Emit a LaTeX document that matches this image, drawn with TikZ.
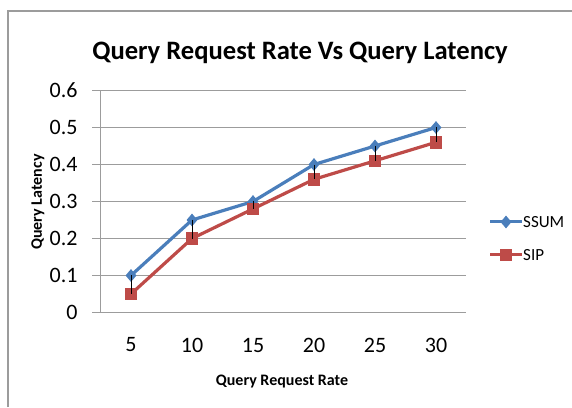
\documentclass[tikz,border=0pt]{standalone}
\usepackage{fontspec}
\setmainfont{Carlito}
\usepackage{tikz}
\usetikzlibrary{shapes.geometric}
\usetikzlibrary{positioning}
\definecolor{ssumblue}{HTML}{4A7EBB}
\definecolor{sipred}{HTML}{BE4B48}
\definecolor{gridgray}{HTML}{9C9C9C}

\tikzset{
  gridline/.style={draw=gridgray, line width=1.5pt},
  ssumline/.style={draw=ssumblue, line width=3.2pt, line join=round},
  sipline/.style={draw=sipred, line width=3.2pt, line join=round},
  ssummark/.style={diamond, fill=ssumblue, inner sep=0pt, minimum width=11pt, minimum height=13pt},
  sipmark/.style={rectangle, fill=sipred, inner sep=0pt, minimum size=12.5pt},
  ticklabel/.style={font=\fontsize{22}{24}\selectfont},
}

\begin{document}
\begin{tikzpicture}[x=1pt,y=1pt]
        \useasboundingbox (0,0) rectangle (572,407);
        \draw[gridline] (8,0) -- (8,396) -- (572,396);

        \node[font=\bfseries\fontsize{26.6}{30}\selectfont, anchor=base] (title) at (300,347) {Query Request Rate Vs Query Latency};

        % value axis
        \foreach \k/\lab in {0/0,1/0.1,2/0.2,3/0.3,4/0.4,5/0.5,6/0.6} {
            \draw[gridline] (92,{94.5+37*\k}) -- (466,{94.5+37*\k});
            \node[ticklabel, anchor=east] (y\k) at (81,{94.5+37*\k}) {\lab};
        }
        \draw[gridline] (100.5,94.5) -- (100.5,316.5);

        % category axis
        \foreach \i/\lab in {1/5,2/10,3/15,4/20,5/25,6/30}
            \node[ticklabel] (x\i) at ({70+61*\i},62) {\lab};

        \node[font=\bfseries\fontsize{16}{18}\selectfont, anchor=base] (xtitle) at (282,22) {Query Request Rate};
        \node[font=\bfseries\fontsize{16}{18}\selectfont, rotate=90] (ytitle) at (38,205) {Query Latency};

        % data
        \foreach \i/\a/\b in {1/0.10/0.05,2/0.25/0.20,3/0.30/0.28,4/0.40/0.36,5/0.45/0.41,6/0.50/0.46} {
            \coordinate (s\i) at ({70+61*\i},{94.5+370*\a});
            \coordinate (p\i) at ({70+61*\i},{94.5+370*\b});
        }

        \draw[ssumline] (s1) -- (s2) -- (s3) -- (s4) -- (s5) -- (s6);
        \foreach \i in {1,...,6}
            \node[ssummark] (sm\i) at (s\i) {};
        \draw[sipline] (p1) -- (p2) -- (p3) -- (p4) -- (p5) -- (p6);
        \foreach \i in {1,...,6}
            \node[sipmark] (pm\i) at (p\i) {};
        \foreach \i in {1,...,6}
            \draw[black, line width=0.9pt] (s\i) -- (p\i);

        % legend
        \coordinate (ls1) at (490,185);
        \coordinate (ls2) at (522,185);
        \draw[ssumline, line width=3pt] (ls1) -- (ls2);
        \node[ssummark] (lsm) at (506,185) {};
        \node[font=\fontsize{17}{19}\selectfont, anchor=west, inner sep=1pt] (lssum) at (ls2) {SSUM};

        \coordinate (lp1) at (490,152);
        \coordinate (lp2) at (522,152);
        \draw[sipline, line width=3pt] (lp1) -- (lp2);
        \node[sipmark] (lpm) at (506,152) {};
        \node[font=\fontsize{17}{19}\selectfont, anchor=west, inner sep=1pt] (lsip) at (lp2) {SIP};
\end{tikzpicture}
\end{document}
